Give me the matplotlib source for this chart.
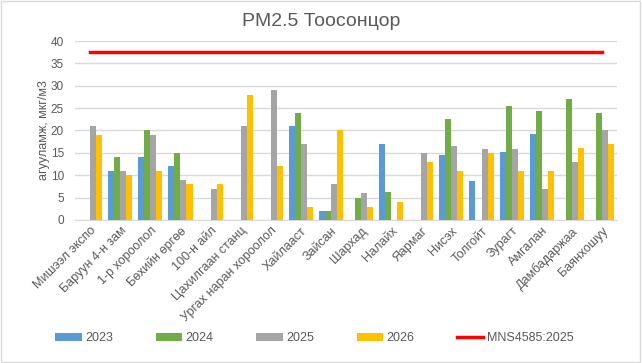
import numpy as np
import matplotlib
matplotlib.use("Agg")
import matplotlib.pyplot as plt

plt.rcParams['font.family'] = ['Liberation Sans', 'DejaVu Sans']

nan = np.nan
stations = ['Мишээл экспо', 'Баруун 4-н зам', '1-р хороолол', 'Бөхийн өргөө', '100-н айл',
            'Цахилгаан станц', 'Ургах наран хороолол', 'Хайлааст', 'Зайсан', 'Шархад',
            'Налайх', 'Яармаг', 'Нисэх', 'Толгойт', 'Зурагт', 'Амгалан', 'Дамбадаржаа', 'Баянхошуу']
v2023 = [nan, 11, 14, 12, nan, nan, nan, 21, 2, nan, 17, nan, 14.5, 8.7, 15.2, 19.2, nan, nan]
v2024 = [nan, 14, 20, 15, nan, nan, nan, 24, 2, 5, 6.2, nan, 22.6, nan, 25.5, 24.4, 27, 24]
v2025 = [21, 11, 19, 9, 7, 21, 29, 17, 8, 6, nan, 15, 16.5, 15.9, 15.9, 6.9, 13, 20]
v2026 = [19, 10, 11, 8, 8, 28, 12, 3, 20, 3, 4, 13, 11, 15, 11, 11, 16, 17]
norm = 37.5

series = [('2023', v2023, '#5B9BD5'), ('2024', v2024, '#70AD47'),
          ('2025', v2025, '#A5A5A5'), ('2026', v2026, '#FFC000')]

fig = plt.figure(figsize=(6.42, 3.63), dpi=100)
ax = fig.add_axes([0.117, 0.394, 0.844, 0.493])

x = np.arange(len(stations))
w = 0.2
handles = []
for i, (name, vals, col) in enumerate(series):
    h = ax.bar(x + (i - 1.5) * w, vals, w, color=col, label=name, zorder=3)
    handles.append(h)
line, = ax.plot(x, [norm] * len(x), color='#FF0000', lw=2.5, label='MNS4585:2025', zorder=4)
handles.append(line)

ax.set_xlim(-0.5, len(stations) - 0.5)
ax.set_ylim(0, 40)
ax.set_yticks(range(0, 41, 5))
ax.grid(axis='y', color='#D9D9D9', lw=1, zorder=0)
for s in ['top', 'right', 'left']:
    ax.spines[s].set_visible(False)
ax.spines['bottom'].set_color('#D9D9D9')
ax.tick_params(length=0, colors='#595959', labelsize=9)
ax.tick_params(axis='y', labelsize=8.5, pad=8)
ax.set_xticks(x)
ax.set_xticklabels(stations, rotation=45, ha='right', rotation_mode='anchor', fontsize=9)
ax.set_ylabel('агууламж, мкг/м3', color='#595959', fontsize=9,
              family=['Liberation Sans Narrow', 'Liberation Sans'])
ax.yaxis.set_label_coords(-0.046, 0.5)

fig.suptitle('PM2.5 Тоосонцор', y=0.965, fontsize=14, color='#595959')
fig.legend(handles=handles, labels=[h.get_label() for h in handles],
           loc='lower center', bbox_to_anchor=(0.49, 0.02), ncol=5, frameon=False,
           fontsize=9, labelcolor='#595959', columnspacing=3.4, handlelength=2.1,
           handleheight=0.6, handletextpad=0.3)

fig.patches.append(plt.Rectangle((0.002, 0.003), 0.995, 0.994, transform=fig.transFigure,
                                 fill=False, edgecolor='#D9D9D9', lw=1))
fig.savefig('out.png', dpi=100)
